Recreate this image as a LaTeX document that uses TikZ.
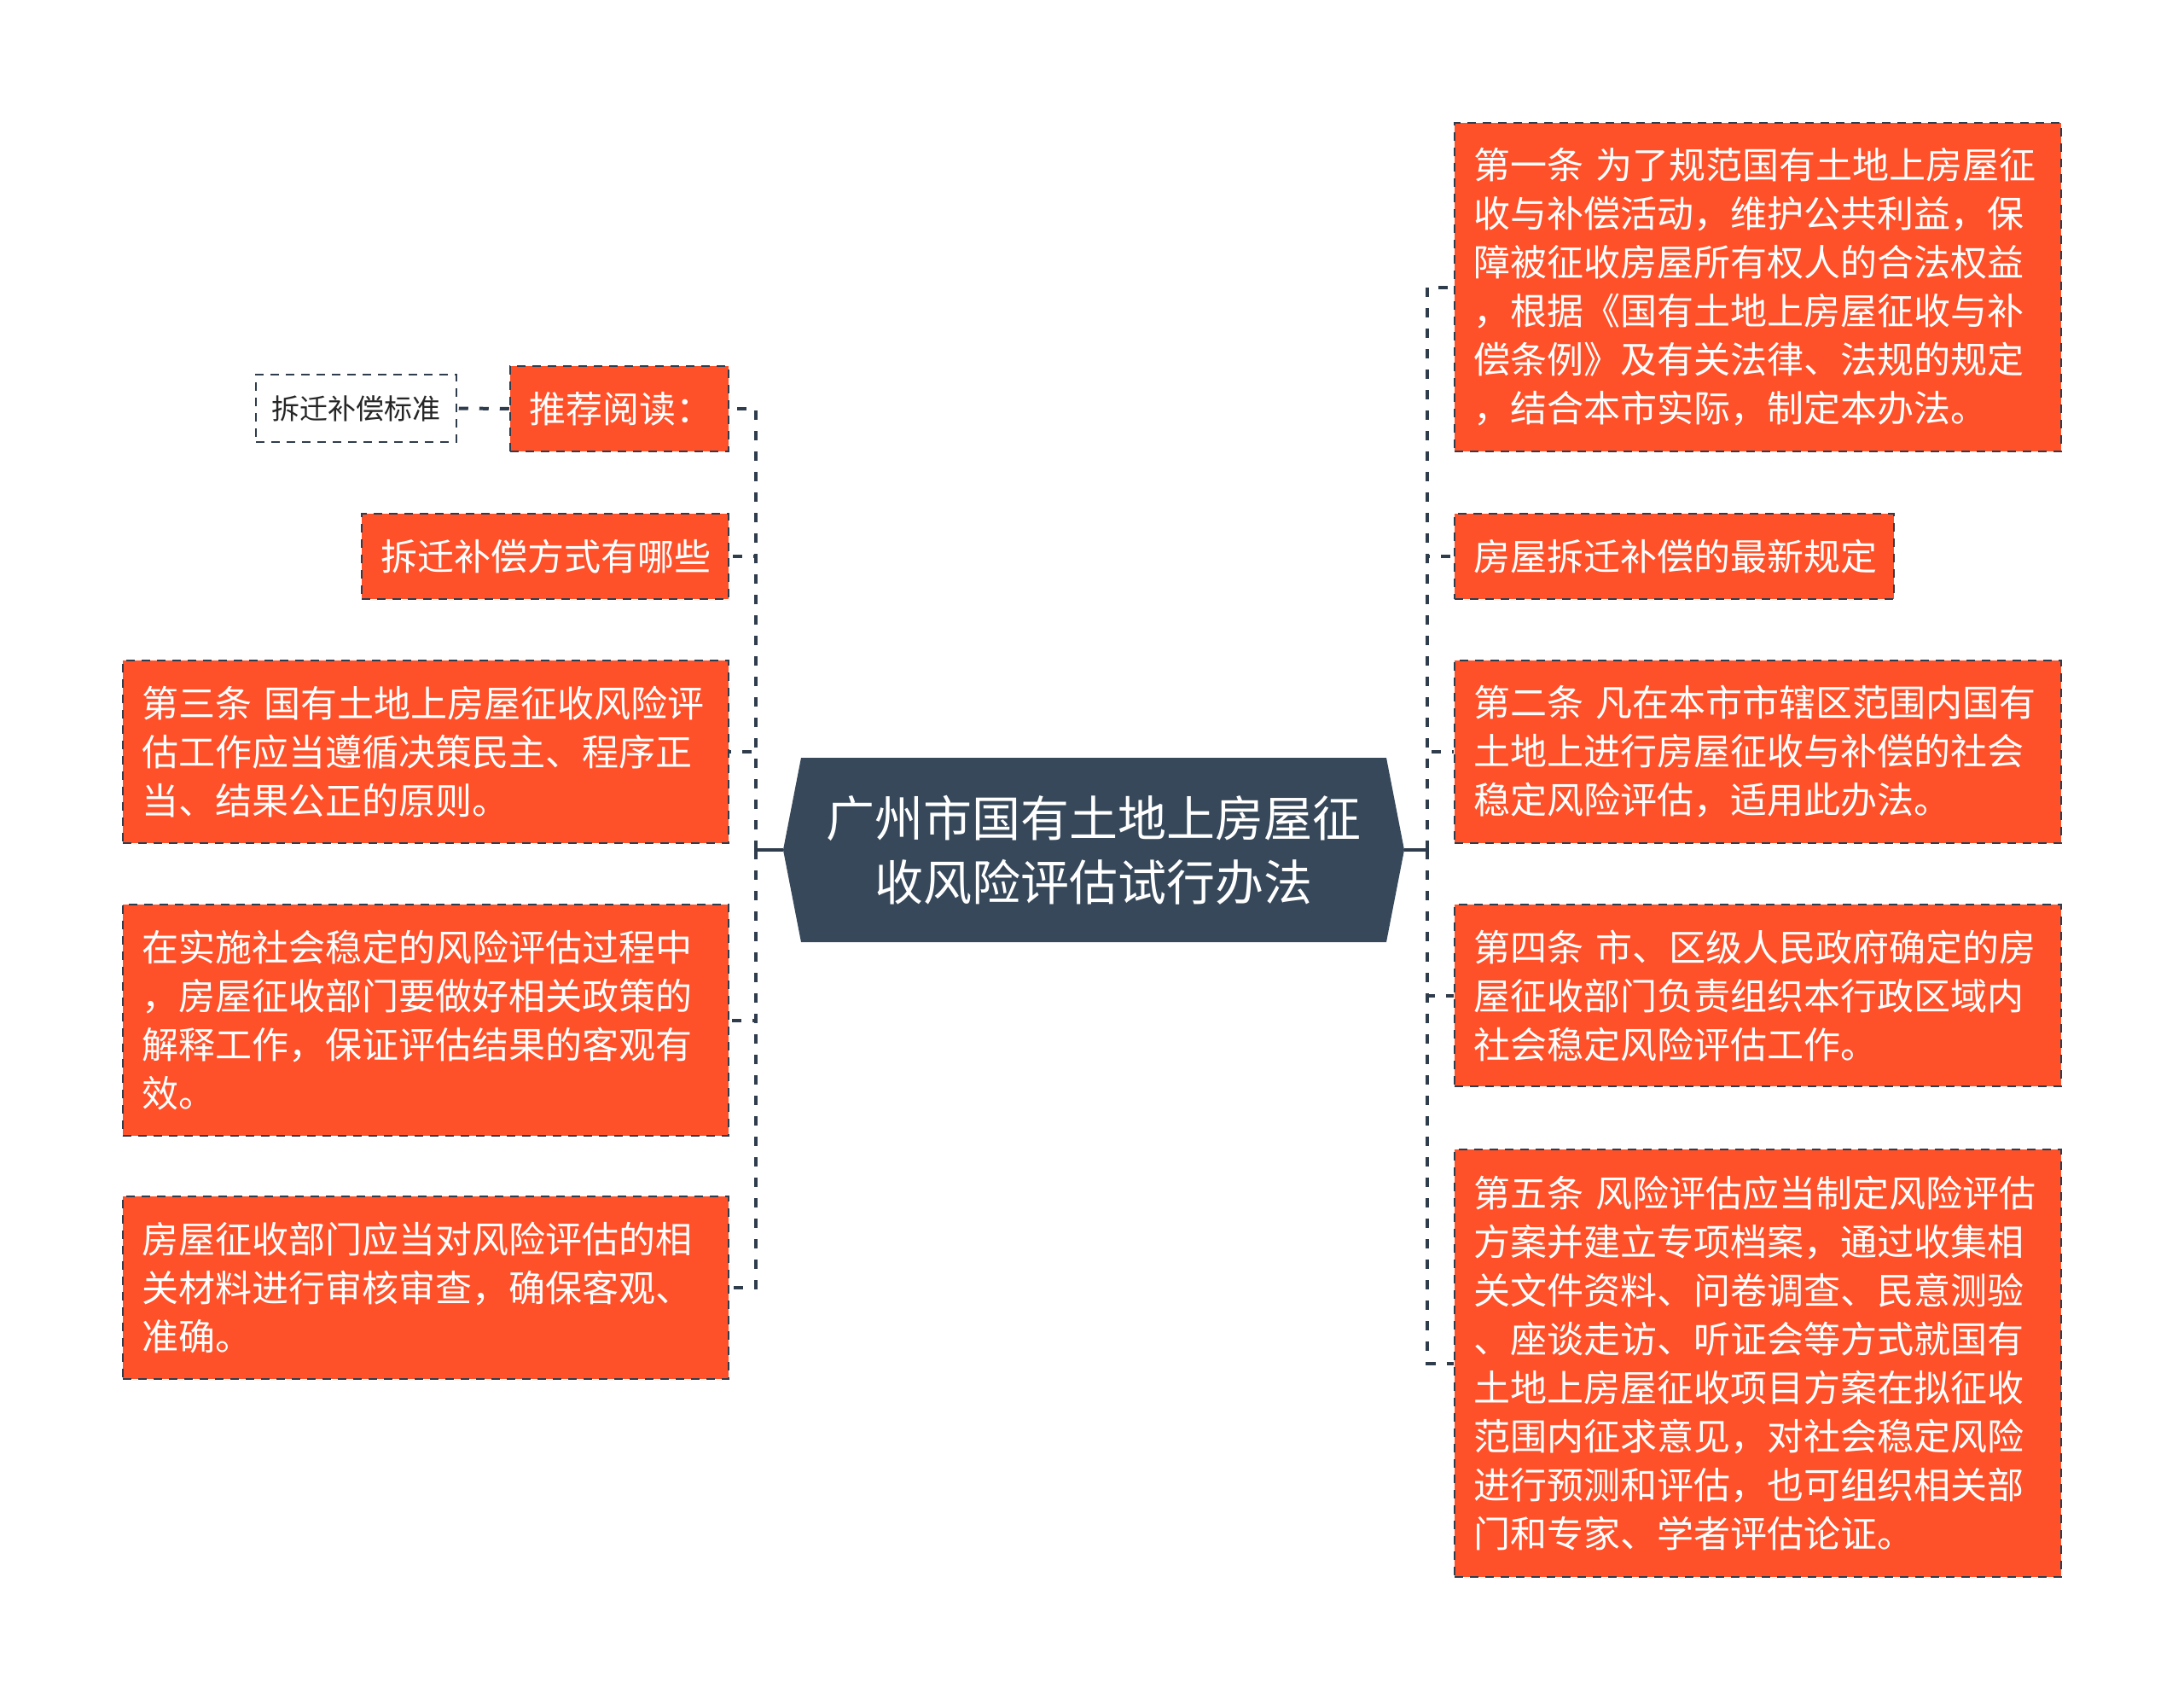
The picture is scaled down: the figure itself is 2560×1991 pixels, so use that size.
\documentclass[tikz,border=0pt]{standalone}
\usepackage{fontspec}
\newfontfamily\cjk{Noto Sans CJK SC}
\usetikzlibrary{shapes.symbols,positioning}

\definecolor{leafc}{HTML}{FE5029}
\definecolor{rootc}{HTML}{36485A}
\definecolor{linkc}{HTML}{2E3C4C}

\tikzset{
  leaf/.style 2 args={draw=linkc, line width=2.5pt, dash pattern=on 10pt off 8pt,
    fill=leafc, text=white, font=\cjk\fontsize{43}{57}\selectfont,
    align=left, inner xsep=22pt, inner ysep=0pt,
    text width=#1pt-44pt, minimum width=#1pt, minimum height=#2pt},
  plainleaf/.style={draw=linkc, line width=2.5pt, dash pattern=on 10pt off 8pt,
    fill=white, text=black!85, font=\cjk\fontsize{33}{40}\selectfont,
    inner xsep=17pt, minimum width=235pt, minimum height=79pt},
  centre/.style={signal, signal to=west and east, signal pointer angle=158,
    fill=rootc, text=white, font=\cjk\fontsize{57}{75}\selectfont,
    align=center, minimum width=728pt, minimum height=216pt, inner sep=0pt},
  link/.style={draw=linkc, line width=4pt, dash pattern=on 11pt off 13pt},
  stub/.style={draw=linkc, line width=4pt}
}

\begin{document}
\begin{tikzpicture}[x=1pt, y=-1pt]
\useasboundingbox (0,0) rectangle (2560,1991);

% --- centre ---
\node[centre] (root) at (1282,996) {广州市国有土地上房屋征\\收风险评估试行办法};
\coordinate[left=32pt of root.west] (busL);
\coordinate[right=27pt of root.east] (busR);

% --- right branches ---
\node[leaf={711}{385}] (r1) at (2060.5,336.5) {第一条 为了规范国有土地上房屋征\\收与补偿活动，维护公共利益，保\\障被征收房屋所有权人的合法权益\\，根据《国有土地上房屋征收与补\\偿条例》及有关法律、法规的规定\\，结合本市实际，制定本办法。};
\node[leaf={515}{100}] (r2) at (1962.5,652) {房屋拆迁补偿的最新规定};
\node[leaf={711}{214}] (r3) at (2060.5,881) {第二条 凡在本市市辖区范围内国有\\土地上进行房屋征收与补偿的社会\\稳定风险评估，适用此办法。};
\node[leaf={711}{213}] (r4) at (2060.5,1166.5) {第四条 市、区级人民政府确定的房\\屋征收部门负责组织本行政区域内\\社会稳定风险评估工作。};
\node[leaf={711}{501}] (r5) at (2060.5,1597.5) {第五条 风险评估应当制定风险评估\\方案并建立专项档案，通过收集相\\关文件资料、问卷调查、民意测验\\、座谈走访、听证会等方式就国有\\土地上房屋征收项目方案在拟征收\\范围内征求意见，对社会稳定风险\\进行预测和评估，也可组织相关部\\门和专家、学者评估论证。};

% --- left branches ---
\node[leaf={256}{100}] (l1) at (726,479) {推荐阅读：};
\node[plainleaf] (l1a) at (417.5,478.5) {拆迁补偿标准};
\node[leaf={430}{100}] (l2) at (639,652) {拆迁补偿方式有哪些};
\node[leaf={710}{214}] (l3) at (499,881) {第三条 国有土地上房屋征收风险评\\估工作应当遵循决策民主、程序正\\当、结果公正的原则。};
\node[leaf={710}{271}] (l4) at (499,1195.5) {在实施社会稳定的风险评估过程中\\，房屋征收部门要做好相关政策的\\解释工作，保证评估结果的客观有\\效。};
\node[leaf={710}{214}] (l5) at (499,1509) {房屋征收部门应当对风险评估的相\\关材料进行审核审查，确保客观、\\准确。};

% --- connectors ---
\draw[stub] (root.west) -- (busL);
\draw[stub] (root.east) -- (busR);
\foreach \n in {r1,r2,r3,r4,r5}
  \draw[link] (busR) |- (\n.west);
\foreach \n in {l1,l2,l3,l4,l5}
  \draw[link] (busL) |- (\n.east);
\draw[link] (l1.west) -- (l1a.east);

\end{tikzpicture}
\end{document}
